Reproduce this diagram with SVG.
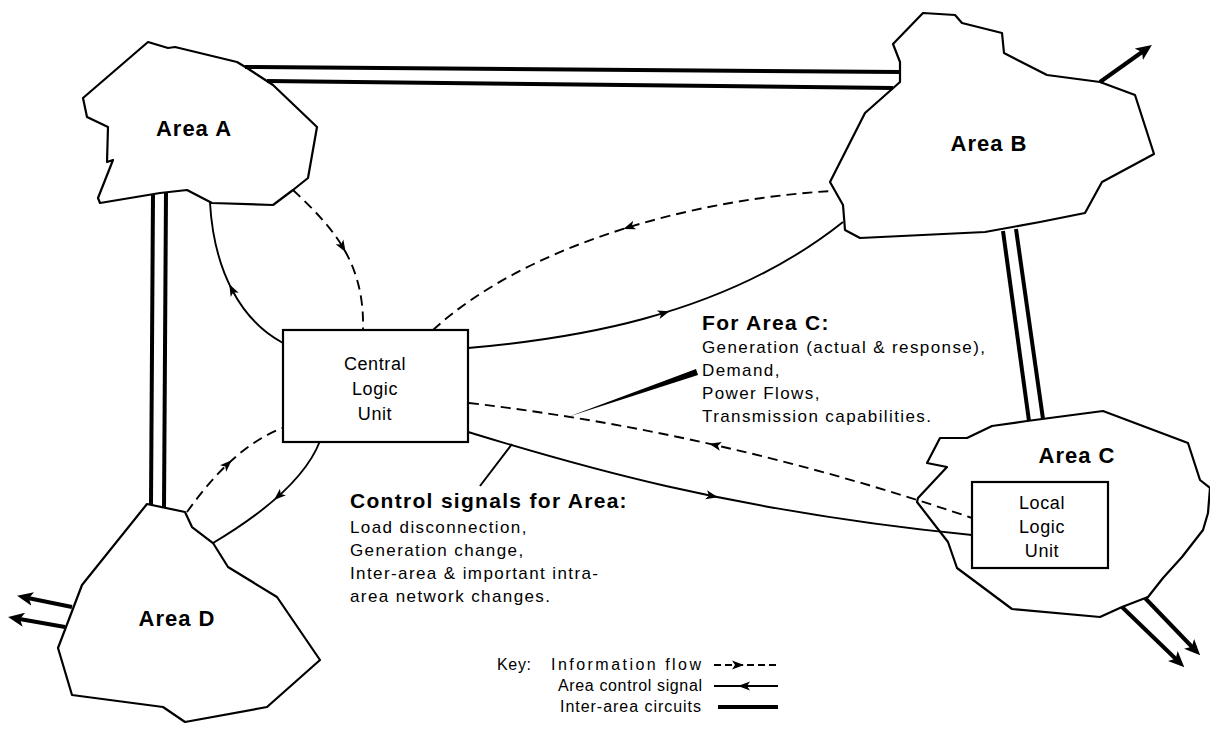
<svg xmlns="http://www.w3.org/2000/svg" width="1210" height="730" viewBox="0 0 1210 730">
  <style>
    .area { fill: #fff; stroke: #000; stroke-width: 2.2; stroke-linejoin: round; }
    .box { fill: #fff; stroke: #000; stroke-width: 2.2; }
    .sig { fill: none; stroke: #000; stroke-width: 1.9; }
    .info { fill: none; stroke: #000; stroke-width: 1.9; stroke-dasharray: 10 6; }
    .circ { fill: none; stroke: #000; stroke-width: 4; }
    .out { fill: none; stroke: #000; stroke-width: 4; marker-end: url(#bigArrow); }
    text { font-family: "Liberation Sans", Arial, Helvetica, sans-serif; fill: #000; }
    .label { font-weight: bold; font-size: 22px; letter-spacing: 1px; text-anchor: middle; }
    .unit { font-size: 18px; letter-spacing: 0.6px; text-anchor: middle; }
    .head { font-weight: bold; font-size: 21px; letter-spacing: 1.3px; }
    .body { font-size: 17px; letter-spacing: 1.4px; }
    .key { font-size: 16px; }
  </style>
  <defs>
    <path id="ah" d="M6,0 L-6,-4.5 L-3,0 L-6,4.5 Z" fill="#000"/>
    <marker id="bigArrow" viewBox="0 0 16 14" refX="10" refY="7" markerWidth="16" markerHeight="14" orient="auto" markerUnits="userSpaceOnUse">
      <path d="M0,0 L16,7 L0,14 L4,7 Z" fill="#000"/>
    </marker>
  </defs>

  <rect width="1210" height="730" fill="#fff"/>

  <!-- Areas -->
  <g id="area-a">
    <polygon class="area" points="148,42 168,48 175,47 237,62 247,68 273,85 317,127 308,178 293,190 273,205 212,203 187,190 160,193 100,203 98,198 113,160 107,162 108,127 87,117 83,98"/>
    <text class="label" x="194" y="136">Area A</text>
  </g>
  <g id="area-b">
    <polygon class="area" points="923,13 955,15 962,23 1002,33 1004,53 1047,75 1100,82 1135,95 1154,154 1102,182 1085,213 1040,222 985,232 860,238 845,230 843,205 830,182 865,113 900,82 900,62 893,44"/>
    <text class="label" x="989" y="151">Area B</text>
  </g>
  <g id="area-c">
    <polygon class="area" points="1103,411 1188,443 1200,480 1210,488 1208,513 1203,530 1182,557 1163,578 1148,597 1122,607 1100,617 1012,609 957,568 948,542 917,502 918,498 947,467 927,463 940,438 967,438 992,426 1027,421"/>
    <text class="label" x="1077" y="463">Area C</text>
  </g>
  <g id="area-d">
    <polygon class="area" points="147,504 185,512 192,527 213,543 228,567 277,597 320,660 267,707 185,722 163,707 72,695 58,648 82,585"/>
    <text class="label" x="177" y="626">Area D</text>
  </g>

  <!-- Connectors: inter-area circuits, outgoing ties, information flows and control signals -->
  <g id="connectors">
    <line class="circ" x1="245" y1="67" x2="900" y2="72"/>
    <line class="circ" x1="267" y1="81" x2="893" y2="88"/>
    <line class="circ" x1="153" y1="194" x2="151" y2="505"/>
    <line class="circ" x1="166" y1="192" x2="164" y2="508"/>
    <line class="circ" x1="1003" y1="231" x2="1029" y2="421"/>
    <line class="circ" x1="1016" y1="229" x2="1043" y2="419"/>

    <line class="out" x1="1100" y1="82" x2="1147" y2="48.5"/>
    <line class="out" x1="1122" y1="607" x2="1180" y2="663"/>
    <line class="out" x1="1145" y1="598" x2="1196" y2="651"/>
    <line class="out" x1="72" y1="607" x2="23" y2="597"/>
    <line class="out" x1="65" y1="627" x2="14" y2="618"/>

    <!-- Area A -->
    <path class="sig" d="M210,203 C214,270 240,320 283,343"/>
    <use href="#ah" transform="translate(232,289.5) rotate(-117)"/>
    <path class="info" d="M293,190 C330,225 365,260 363,330"/>
    <use href="#ah" transform="translate(342.6,247) rotate(59)"/>

    <!-- Area B -->
    <path class="info" d="M433,330 C520,250 680,200 832,191"/>
    <use href="#ah" transform="translate(629,227) rotate(161)"/>
    <path class="sig" d="M468,348 C560,340 720,320 843,222"/>
    <use href="#ah" transform="translate(664,313) rotate(-17)"/>

    <!-- Area C -->
    <path class="info" d="M469,403 Q720,432 972,518"/>
    <use href="#ah" transform="translate(715,445) rotate(-167)"/>
    <path class="sig" d="M468,432 C560,460 720,510 972,535"/>
    <use href="#ah" transform="translate(712,496) rotate(12)"/>

    <!-- Area D -->
    <path class="info" d="M187,512 C210,480 240,445 282,428"/>
    <use href="#ah" transform="translate(227.4,464.4) rotate(-44)"/>
    <path class="sig" d="M320,441 C305,480 260,515 213,543"/>
    <use href="#ah" transform="translate(278.5,496) rotate(138)"/>

    <!-- label pointers -->
    <polygon points="569,416.5 696,369 698,375" fill="#000"/>
    <line x1="480" y1="486" x2="512" y2="444" stroke="#000" stroke-width="2"/>
  </g>

  <!-- Logic units -->
  <g id="central-logic-unit">
    <rect class="box" x="283" y="330" width="185" height="112"/>
    <text class="unit" x="375" y="370">Central</text>
    <text class="unit" x="375" y="395">Logic</text>
    <text class="unit" x="375" y="420">Unit</text>
  </g>
  <g id="local-logic-unit">
    <rect class="box" x="972" y="482" width="136" height="86"/>
    <text class="unit" x="1042" y="509">Local</text>
    <text class="unit" x="1042" y="533">Logic</text>
    <text class="unit" x="1042" y="557">Unit</text>
  </g>

  <!-- Notes -->
  <g id="note-area-c">
    <text class="head" x="702" y="330">For Area C:</text>
    <text class="body" x="702" y="353">Generation (actual &amp; response),</text>
    <text class="body" x="702" y="376">Demand,</text>
    <text class="body" x="702" y="399">Power Flows,</text>
    <text class="body" x="702" y="422">Transmission capabilities.</text>
  </g>
  <g id="note-control">
    <text class="head" x="350" y="508">Control signals for Area:</text>
    <text class="body" x="350" y="533">Load disconnection,</text>
    <text class="body" x="350" y="556">Generation change,</text>
    <text class="body" x="350" y="579">Inter-area &amp; important intra-</text>
    <text class="body" x="350" y="602">area network changes.</text>
  </g>

  <!-- Key -->
  <g id="key">
    <text class="key" x="497" y="670" textLength="34" lengthAdjust="spacing">Key:</text>
    <text class="key" x="551" y="670" textLength="150" lengthAdjust="spacing">Information flow</text>
    <text class="key" x="558" y="691" textLength="144" lengthAdjust="spacing">Area control signal</text>
    <text class="key" x="560" y="712" textLength="141" lengthAdjust="spacing">Inter-area circuits</text>
    <line x1="714" y1="665" x2="778" y2="665" stroke="#000" stroke-width="1.8" stroke-dasharray="7 4"/>
    <use href="#ah" transform="translate(738,665) rotate(0)"/>
    <line x1="714" y1="686" x2="778" y2="686" stroke="#000" stroke-width="1.8"/>
    <use href="#ah" transform="translate(744,686) rotate(180)"/>
    <line x1="718" y1="707" x2="778" y2="707" stroke="#000" stroke-width="4"/>
  </g>
</svg>
